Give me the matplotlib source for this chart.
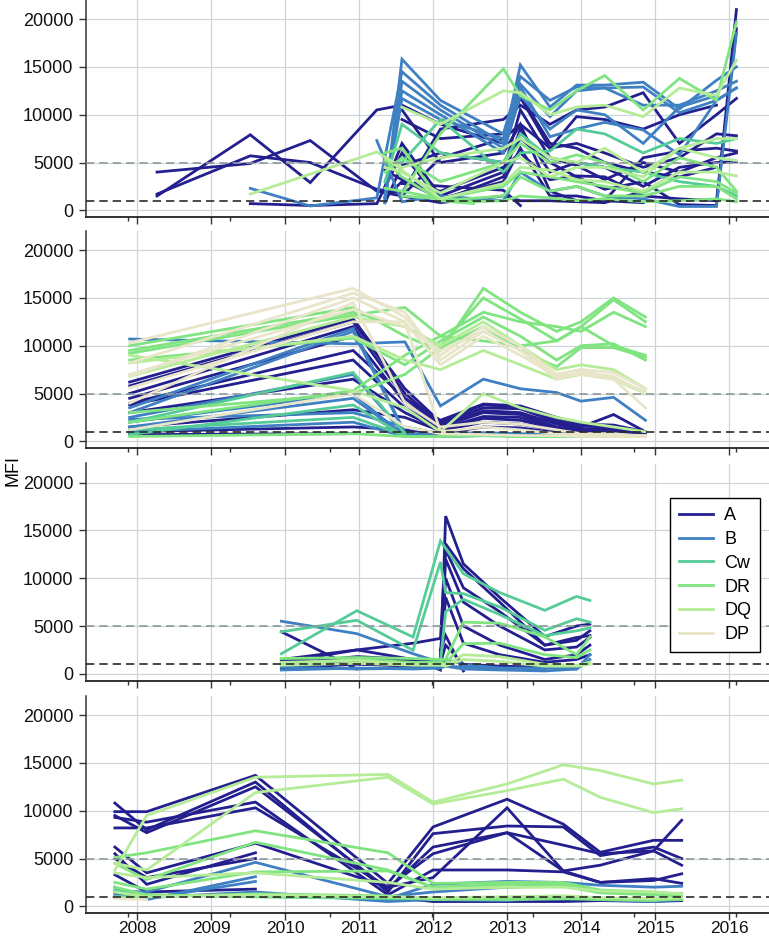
import numpy as np
import matplotlib
matplotlib.use("Agg")
import matplotlib.pyplot as plt
from matplotlib.lines import Line2D

plt.rcParams['font.family'] = ['Liberation Sans', 'DejaVu Sans']

n = np.nan

categories = ["A", "B", "Cw", "DR", "DQ", "DP"]
colors = ["#241f8e", "#3f80c2", "#55cc97", "#80e480", "#b5ec97", "#e8e5c9"]

year_ticks = [2008, 2009, 2010, 2011, 2012, 2013, 2014, 2015, 2016]
minor_ticks = [2007.88, 2009.25, 2010.61, 2011.98, 2013.35, 2014.72, 2016.09]
y_ticks = [0, 5000, 10000, 15000, 20000]
ref_low = 1000
ref_high = 5000

# ---------------- Panel 1 ----------------
p1_t = [2008.27, 2009.53, 2010.34, 2011.24, 2011.35, 2011.58, 2012.10, 2012.55, 2012.95,
        2013.18, 2013.58, 2013.94, 2014.32, 2014.84, 2015.33, 2015.83, 2016.10]
p1_A = [
    [1500, 7900, 2900, 10500, n, 11000, 9000, n, 7000, 11800, 6500, 7000, 6000, 4500, 5500, 8000, 7800],
    [1700, 5700, 5000, 2200, n, 1800, 8500, n, 9500, 11000, 9000, 10500, 10800, 12300, 7000, 10000, 11700],
    [4000, 4900, 7300, 2000, n, 1500, 5500, n, 7500, 9000, 6500, 9800, 9500, 8500, 10000, 11000, n],
    [n, 700, 500, 700, n, 6000, 1000, n, 3500, 8500, 4000, 5000, 4500, 2500, 4500, 5000, 5100],
    [n, n, n, n, 2500, 7000, 1500, n, 4000, 10500, 5500, 4700, 3200, 5000, 4000, 5500, 6000],
    [n, n, n, n, 4200, 3200, 1200, n, 3000, 6500, 1500, 1500, 1000, 5500, 6200, 6500, 6200],
    [n, n, n, n, 800, 4700, 6000, n, 5000, 7500, 5000, 3500, 2200, 3000, 600, 500, 21000],
    [n, n, n, n, 1300, 3000, 2000, n, 4500, 6000, 3200, 3600, 3500, 1500, 1200, 1000, 19000],
    [n, n, n, n, n, 9500, 7500, n, 8000, 12000, 7000, 6500, 5000, 4000, 3500, 4500, n],
    [n, n, n, n, n, 2800, n, n, 2100, 500, n, n, n, n, n, n, n],
    [n, n, n, n, n, 10500, 5000, n, 6000, 9000, 2000, 1000, 1000, 800, n, n, n],
    [n, n, n, n, n, 1500, 800, n, 1500, 1000, 1000, 900, 800, 2000, n, n, n],
]
p1_B = [
    [n, 2300, 450, 1300, n, 14500, 11000, n, 7000, 15200, 10800, 13100, 13100, 13400, 10600, 13600, 15000],
    [n, n, n, n, 1000, 15800, 11500, n, 8000, 14000, 11500, 12900, 12800, 12900, 10200, 11500, 12800],
    [n, n, n, n, 800, 13500, 10500, n, 6500, 12900, 7700, 8500, 9200, 8400, 5800, 11500, 12800],
    [n, n, n, n, 1500, 12500, 10000, n, 6000, 12000, 8500, 10500, 10000, 7000, 10800, 12000, n],
    [n, n, n, 7300, n, 900, 1500, n, 1000, 4000, 2000, 2500, 1500, 1200, 400, 400, 18500],
    [n, n, n, n, 1200, 11700, 9500, n, 7500, 13200, 9800, 12500, 12800, 11000, 11000, 12500, 13500],
]
p1_Cw = [
    [n, n, n, n, 5000, 5000, 9500, n, 4000, 6000, 6200, 8500, 8000, 6000, 7500, 7000, 7500],
    [n, n, n, n, 3000, 9000, 6000, n, 5000, 8000, 5500, 5000, 4500, 4000, 3000, 2500, 1500],
]
p1_DR = [
    [n, n, n, n, n, 1750, 8000, n, 14800, 12000, 10500, 12500, 14100, 10500, 13800, 11500, 19700],
    [n, n, n, n, 2300, 2000, 1200, n, 2500, 4000, 3500, 3000, 2500, 1800, 3500, 3000, 1800],
    [n, n, n, n, 6000, 6500, 1000, n, 1500, 3500, 2000, 2500, 1500, 1500, 2500, 2500, 1200],
    [n, n, n, n, 5200, 3500, 1000, 700, n, n, n, n, n, n, n, n, n],
    [n, n, n, n, 4000, 5500, 3000, n, 5000, 7000, 5000, 5800, 5000, 3000, 5500, 4500, 2000],
    [n, n, n, n, n, 1500, 1200, 900, 1000, 1500, 1300, 1000, 1200, 900, 1000, 1200, 900],
]
p1_DQ = [
    [n, 1700, n, 6100, n, 4500, 5500, n, 6500, 7500, 5500, 5000, 6500, 4000, 6500, 7500, 7500],
    [n, n, n, n, n, 10800, 9000, n, 12500, 12300, 10000, 10800, 11000, 9800, 12800, 12000, 15700],
    [n, n, n, n, 5500, 4200, 1200, n, 2800, 4500, 4200, 3200, 3000, 2000, 4000, 4000, 3600],
    [n, n, n, n, 4500, 4000, 1800, n, 5000, 5500, 3500, 4500, 4500, 3500, 6500, 5500, 5200],
]
p1_DP = []

# ---------------- Panel 2 ----------------
p2_t = [2007.9, 2010.92, 2011.3, 2011.62, 2012.1, 2012.68, 2013.18, 2013.67, 2014.0, 2014.44, 2014.87]
p2_A = [
    [6200, 12800, n, 5500, 2000, 3800, 3600, 2200, 1600, 1500, 900],
    [5800, 12500, n, 5000, 1800, 3500, 3400, 2000, 1500, 2800, 1000],
    [5000, 12000, n, 4500, 1600, 3200, 3000, 1800, 1300, 1400, 800],
    [4500, 11000, n, 4000, 1500, 3000, 2800, 1500, 1200, 1300, 700],
    [4000, 9500, n, 4500, 2200, 3900, 3700, 2500, 1800, 1700, 1000],
    [3800, 8500, n, 3500, 1300, 2600, 2500, 1400, 1100, 1200, 600],
    [3000, 6500, n, 3000, 1200, 2400, 2200, 1300, 1000, 1000, 600],
    [1500, 3300, n, 2500, 1100, 2000, 1800, 1100, 900, 900, 500],
    [1000, 1500, n, 1200, 800, 1500, 1400, 900, 800, 800, 500],
    [700, 800, n, n, n, n, n, n, n, n, n],
]
p2_B = [
    [10700, 10200, n, 10400, 3700, 6500, 5500, 5100, 4200, 4600, 2200],
    [3500, 11800, n, 900, 600, 800, 700, 600, 600, 600, 600],
    [3000, 11500, n, 800, n, n, n, n, n, n, n],
    [2500, 7000, n, 700, 500, 600, n, n, n, n, n],
    [2000, 5000, 2500, 600, n, n, n, n, n, n, n],
    [1500, 4500, n, 600, n, n, n, n, n, n, n],
    [1000, 2000, n, 500, n, n, n, n, n, n, n],
    [2300, 3000, n, 1500, 800, 900, 800, 700, 600, 600, 500],
]
p2_Cw = [
    [2000, 7200, n, 800, n, n, n, n, n, n, n],
    [700, 3800, n, 500, 500, 600, 500, 500, 500, 500, 600],
    [1200, 2500, n, 600, n, n, n, n, n, n, n],
]
p2_DR = [
    [10000, 14000, n, 11000, 9500, 16000, 13500, 11500, 12500, 15000, 13000],
    [9500, 13500, n, 12000, 10000, 15000, 12800, 10500, 12000, 14800, 12500],
    [9200, 13200, n, 14000, 11000, 13500, 12500, 12000, 11500, 13500, 12000],
    [2000, 5300, n, 9000, 11000, 10500, 10000, 10500, 12000, 10000, 9000],
    [8500, 10800, n, 8000, 10500, 13000, 11000, 8500, 10000, 10200, 8500],
    [3000, 5000, n, 7000, 9800, 12000, 9500, 7800, 9800, 9800, 8800],
    [500, 800, n, 500, 500, 600, 500, 500, 500, 500, 500],
]
p2_DQ = [
    [9000, 5300, n, 3500, 1000, 5000, 3500, 2500, 2000, 1500, 1000],
    [8200, 11000, n, 8500, 7500, 9500, 8000, 6500, 7000, 6500, 5000],
    [6800, 13000, n, 12000, 10000, 12500, 10000, 7500, 8000, 7500, 5500],
]
p2_DP = [
    [10300, 16000, n, 13000, 9000, 12000, 10000, 7000, 7500, 7200, 5500],
    [8200, 15500, n, 13500, 8500, 11500, 9500, 6500, 7200, 6800, 5000],
    [6800, 15000, n, 12500, 8000, 11000, 9000, 6800, 7000, 6500, 5200],
    [5600, 12500, n, 12500, 1000, 1500, 1200, 800, 700, 700, 600],
    [4000, 14500, n, 4000, 1500, 2000, 1800, 1200, 800, 800, 500],
    [1200, 5000, n, 1500, 800, 700, 600, 600, 500, 500, 500],
    [7000, 13800, n, 12000, 9500, 11500, 9500, 7000, 7500, 6500, 3500],
]

# ---------------- Panel 3 ----------------
p3_t = [2009.95, 2010.97, 2011.73, 2012.10, 2012.17, 2012.41, 2012.90, 2013.51, 2013.94, 2014.12]
p3_A = [
    [4400, 500, n, n, n, n, n, n, n, n],
    [1000, 1800, 1500, 400, 16500, 11500, 8000, 3900, 5000, 5200],
    [1200, 2500, 1500, 1500, 13600, 11000, 7500, 3000, 3500, 4500],
    [800, 1300, 1000, 900, 12000, 7500, 5000, 2500, 2800, 3800],
    [1500, 1200, 1300, 1200, 10000, 5000, 3000, 1500, 2000, 3000],
    [600, 1000, 800, 700, 8000, 3200, 2000, 1200, 1500, 2000],
    [1000, 1500, 1200, 1100, 3000, 1000, 800, 700, 700, n],
    [1500, 2500, 3200, 3700, 13000, 9000, 6500, 3000, 3800, 4000],
    [n, n, n, 2500, 4000, 300, n, n, n, n],
]
p3_B = [
    [5500, 4200, 2100, 1200, 800, 700, 600, 500, n, n],
    [700, 500, 600, 800, 1500, 1000, 600, 600, 500, 2000],
    [400, 600, 500, 600, 800, 500, 400, 300, 500, 1500],
]
p3_Cw = [
    [2100, 6600, 3850, 13900, n, 10470, 8500, 6640, 8100, 7670],
    [4400, 5600, 2460, 11700, 8500, 8380, 7000, 4550, 5760, 5400],
    [n, n, n, 1200, 6500, 7800, 6200, 4000, 4500, 4800],
]
p3_DR = [
    [1600, 1700, 1600, 1500, 1500, 5400, 5300, 3860, 2000, 3860],
    [1000, 1500, 1200, 1200, 1100, 3150, 3200, 2000, 1700, 2500],
]
p3_DQ = [
    [1200, 1400, 1000, 1000, 900, 2000, 1800, 1000, 900, 1200],
    [900, 1100, 900, 900, 800, 1500, 1300, 800, 800, 1000],
]
p3_DP = []

# ---------------- Panel 4 ----------------
p4_t = [2007.70, 2008.13, 2009.60, 2011.39, 2012.00, 2013.00, 2013.76, 2014.26, 2014.98, 2015.36]
p4_A = [
    [9900, 9900, 13700, 2400, 8300, 11200, 8600, 5650, 6900, 6900],
    [10800, 8000, 13000, 1500, 7600, 8400, 8300, 5300, 6200, 5000],
    [9500, 7700, 12500, 1800, 6200, 7700, 6400, 5500, 5800, 9000],
    [9300, 8800, 10900, 1200, 3800, 3800, 3600, 2500, 2700, 3400],
    [8200, 8200, 10300, 2000, 3000, 10300, 3700, 2500, 2900, 2400],
    [6200, 3500, 6600, 2000, 5500, 7700, 3700, 4300, 5800, 4300],
    [5500, 2300, 5600, n, n, n, n, n, n, n],
    [5000, 3000, 5000, n, n, n, n, n, n, n],
    [3300, 1500, 1800, n, n, n, n, n, n, n],
    [n, n, n, 1000, 500, 500, 500, 600, 500, 600],
]
p4_B = [
    [1600, 1500, 4600, 1000, 1500, 2000, 2200, 1500, 1400, 1300],
    [2000, 700, 3100, n, n, n, n, n, n, n],
    [1400, 800, 2600, n, n, n, n, n, n, n],
    [1200, 900, 1500, 500, 700, 600, 1000, 700, 500, 700],
    [n, n, n, 800, 2300, 2600, 2500, 2200, 2000, 2100],
]
p4_Cw = [
    [1700, 1200, 1000, 800, 800, 900, 800, 800, 700, 900],
]
p4_DR = [
    [5100, 5600, 7900, 5600, 2400, 2500, 2500, 1700, 1500, 1300],
    [4500, 2800, 6700, 3800, 2000, 2300, 2300, 1500, 1300, 1200],
    [2500, 1800, 3600, 3700, 2000, 2000, 2100, 1400, 1200, 1000],
    [1000, 1000, 1300, 1100, 700, 800, 800, 800, 700, 700],
    [2000, 1200, 1000, 900, 800, 700, 800, 700, 600, 800],
]
p4_DQ = [
    [3800, 9500, 13500, 13800, 10900, 12800, 14800, 14200, 12800, 13200],
    [4500, 3800, 11900, 13500, 10700, 12100, 13300, 11400, 9800, 10200],
    [3500, 3000, 3500, 2500, 1800, 2000, 2000, 1600, 1500, 1300],
    [1500, 1000, 1200, 1000, 900, 1000, 1100, 900, 800, 900],
]
p4_DP = [
    [800, 700, n, n, n, n, n, n, n, n],
]

panels = [
    (p1_t, [p1_A, p1_B, p1_Cw, p1_DR, p1_DQ, p1_DP]),
    (p2_t, [p2_A, p2_B, p2_Cw, p2_DR, p2_DQ, p2_DP]),
    (p3_t, [p3_A, p3_B, p3_Cw, p3_DR, p3_DQ, p3_DP]),
    (p4_t, [p4_A, p4_B, p4_Cw, p4_DR, p4_DQ, p4_DP]),
]

W, H = 769, 940
fig = plt.figure(figsize=(W / 100, H / 100), dpi=100)

left_px, right_px = 86, 769
tops_px = [0, 231, 463.5, 696]
height_px = 217

axes = []
for i, (t, groups) in enumerate(panels):
    top = tops_px[i]
    ax = fig.add_axes([left_px / W, 1 - (top + height_px) / H,
                       (right_px - left_px) / W, height_px / H])
    axes.append(ax)
    t = np.asarray(t, dtype=float)
    for ci, lines in enumerate(groups):
        for vals in lines:
            v = np.asarray(vals, dtype=float)
            m = ~np.isnan(v)
            ax.plot(t[m], v[m], color=colors[ci], lw=2.0, solid_joinstyle='miter',
                    zorder=2 + ci * 0.1)
    ax.axhline(ref_high, color='#8d9a9a', ls=(0, (5, 3)), lw=1.2, zorder=5)
    ax.axhline(ref_low, color='#2a2a2a', ls=(0, (5, 3)), lw=1.2, zorder=5)

    ax.set_xlim(2007.31, 2016.54)
    ax.set_ylim(-700, 22000)
    ax.set_yticks(y_ticks)
    ax.set_yticklabels([str(v) for v in y_ticks], fontsize=13)
    ax.set_xticks(year_ticks)
    ax.set_xticks(minor_ticks, minor=True)
    if i == 3:
        ax.set_xticklabels([str(y) for y in year_ticks], fontsize=12.5)
    else:
        ax.set_xticklabels([])
    ax.grid(True, which='major', color='#cdd5d9', lw=0.9)
    ax.set_axisbelow(True)
    for s in ['top', 'right']:
        ax.spines[s].set_visible(False)
    ax.spines['left'].set_color('#333333')
    ax.spines['bottom'].set_color('#222222')
    ax.spines['left'].set_linewidth(1.1)
    ax.spines['bottom'].set_linewidth(1.3)
    ax.tick_params(axis='y', which='major', direction='out', length=5, width=1,
                   color='#333333', labelcolor='#111111', pad=4)
    ax.tick_params(axis='x', which='major', direction='out', length=5, width=1,
                   color='#333333', labelcolor='#111111', pad=1)
    ax.tick_params(axis='x', which='minor', direction='out', length=3, width=1,
                   color='#333333')
    ax.set_facecolor('white')

handles = [Line2D([0], [0], color=c, lw=2) for c in colors]
leg = axes[2].legend(handles, categories, loc='upper right',
                     bbox_to_anchor=(0.987, 0.841), fontsize=13, frameon=True,
                     fancybox=False, edgecolor='black', framealpha=1,
                     handlelength=1.9, labelspacing=0.38, borderpad=0.5,
                     handletextpad=0.6, borderaxespad=0)
leg.get_frame().set_linewidth(1.0)
leg.set_zorder(10)

fig.text(13 / W, 0.5, 'MFI', rotation=90, va='center', ha='center', fontsize=13)

fig.savefig('out.png', dpi=100, facecolor='white')
